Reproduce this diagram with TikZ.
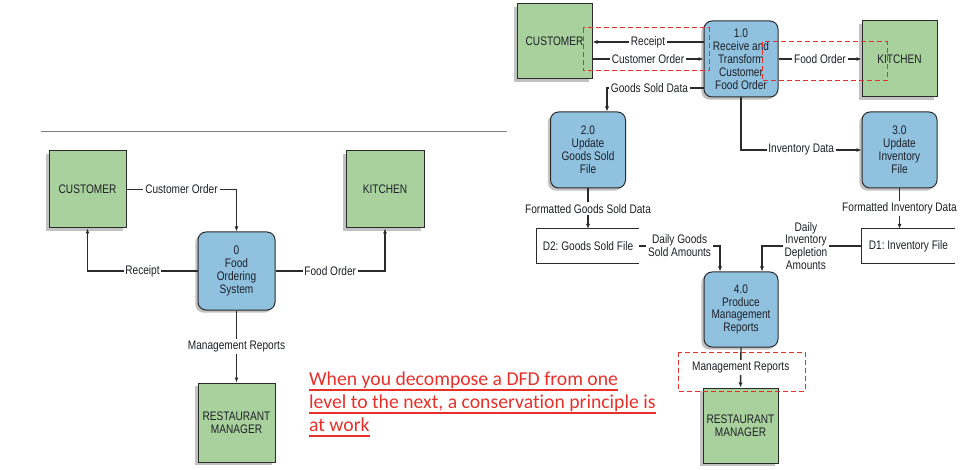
\documentclass[tikz,border=0pt]{standalone}
\usepackage{fontspec}
\usetikzlibrary{arrows.meta,shadows,calc}
\newfontfamily\dfdfont{Liberation Sans}[FakeStretch=0.815]
\newfontfamily\notefont{Carlito}[Ligatures=NoCommon]
\definecolor{entgreen}{HTML}{A9D19D}
\definecolor{procblue}{HTML}{90C2E0}
\definecolor{edgegray}{HTML}{2B2B2B}
\definecolor{txtgray}{HTML}{1E2028}
\definecolor{notered}{HTML}{E8302A}
\frenchspacing
\tikzset{
  base/.style={font=\dfdfont\fontsize{12.4}{12.9}\selectfont, text=txtgray, align=center, inner sep=0pt},
  entity/.style={base, rectangle, draw=edgegray, line width=1pt, fill=entgreen,
     drop shadow={shadow xshift=-2.6pt, shadow yshift=-2.6pt, fill=black!24, opacity=1}},
  proc/.style={base, rectangle, rounded corners=8pt, draw=edgegray, line width=1pt, fill=procblue,
     drop shadow={shadow xshift=-2.6pt, shadow yshift=-2.6pt, fill=black!24, opacity=1}},
  store/.style={base},
  storeline/.style={draw=edgegray, line width=0.8pt},
  flow/.style={draw=edgegray, line width=1.4pt, -{Latex[length=5pt,width=4.2pt]}},
  flowlbl/.style={base, fill=white, inner sep=1.8pt},
  redbox/.style={draw=notered, line width=1pt, dash pattern=on 5pt off 3pt},
  notetxt/.style={font=\notefont\fontsize{19.7}{24}\selectfont, text=notered, inner sep=0pt, anchor=base west},
  noteline/.style={draw=notered, line width=1.5pt}
}
\begin{document}
\begin{tikzpicture}[x=1pt,y=-1pt]
\useasboundingbox (0,0) rectangle (974,470);

% ---------- separator line ----------
\coordinate (sepL) at (41,132);
\coordinate (sepR) at (507,132);
\draw[black!50, line width=1pt] (sepL) -- (sepR);

% ---------- left (context) diagram ----------
\node[entity, minimum width=77pt, minimum height=77pt] (cust1) at (87.5,189.5) {CUSTOMER};
\node[entity, minimum width=78pt, minimum height=77pt] (kit1) at (385,189.5) {KITCHEN};
\node[proc, minimum width=77pt, minimum height=78pt] (p0) at (236.5,271) {0\\Food\\Ordering\\System};
\node[entity, minimum width=77pt, minimum height=79pt] (mgr1) at (236.5,422.5) {RESTAURANT\\MANAGER};

\draw[flow] (cust1.east) -| node[flowlbl, pos=0.25] {Customer Order} (p0.north);
\draw[flow] (p0.west) -| node[flowlbl, pos=0.25] {Receipt} (cust1.south);
\draw[flow] (p0.east) -| node[flowlbl, pos=0.25] {Food Order} (kit1.south);
\draw[flow] (p0.south) -- node[flowlbl] {Management Reports} (mgr1.north);

% ---------- right (level 0) diagram ----------
\node[entity, minimum width=75pt, minimum height=75pt] (cust2) at (554.5,41.5) {CUSTOMER};
\node[proc, minimum width=74pt, minimum height=76pt] (p1) at (741,59) {1.0\\Receive and\\Transform\\Customer\\Food Order};
\node[entity, minimum width=75pt, minimum height=76pt] (kit2) at (899.5,59) {KITCHEN};
\node[proc, minimum width=75pt, minimum height=76pt] (p2) at (588,150) {2.0\\Update\\Goods Sold\\File};
\node[proc, minimum width=75pt, minimum height=76pt] (p3) at (899.5,150) {3.0\\Update\\Inventory\\File};
\node[store, minimum width=102pt, minimum height=34pt] (d2) at (588,246) {D2: Goods Sold File};
\node[store, minimum width=93pt, minimum height=34pt] (d1) at (908.5,246) {D1: Inventory File};
\node[proc, minimum width=74pt, minimum height=75pt] (p4) at (741,309.5) {4.0\\Produce\\Management\\Reports};
\node[entity, minimum width=75pt, minimum height=75pt] (mgr2) at (740.5,425.5) {RESTAURANT\\MANAGER};

\draw[storeline] (d2.north east) -- (d2.north west) -- (d2.south west) -- (d2.south east);
\draw[storeline] (d1.north east) -- (d1.north west) -- (d1.south west) -- (d1.south east);

\draw[flow] ([yshift=17pt]p1.west) -- node[flowlbl] {Receipt} ([yshift=17pt]p1.west -| cust2.east);
\draw[flow] (p1.west -| cust2.east) -- node[flowlbl] {Customer Order} (p1.west);
\draw[flow] (p1.east) -- node[flowlbl] {Food Order} (kit2.west);
\draw[flow] ([yshift=-29pt]p1.west) -| node[flowlbl, pos=0.28] {Goods Sold Data} ([xshift=19pt]p2.north);
\draw[flow] (p1.south) |- node[flowlbl, pos=0.75] {Inventory Data} (p3.west);
\draw[flow] (p2.south) -- node[flowlbl] {Formatted Goods Sold Data} (d2.north);
\draw[flow] (p3.south) -- node[flowlbl] {Formatted Inventory Data} (p3.south |- d1.north);
\draw[flow] (d2.east) -| node[flowlbl, pos=0.25] {Daily Goods\\Sold Amounts} ([xshift=-21pt]p4.north);
\draw[flow] (d1.west) -| node[flowlbl, pos=0.28] {Daily\\Inventory\\Depletion\\Amounts} ([xshift=21pt]p4.north);
\draw[flow] (p4.south) -- node[flowlbl] {Management Reports} (mgr2.north);

% ---------- red dashed highlight boxes ----------
\draw[redbox] (583,28) rectangle (709,71);
\draw[redbox] (762,42) rectangle (887,81);
\draw[redbox] (678,352) rectangle (805,391);

% ---------- red note ----------
\node[notetxt] (r1) at (309,385) {When you decompose a DFD from one};
\node[notetxt] (r2) at (309,408) {level to the next, a conservation principle is};
\node[notetxt] (r3) at (309,431) {at work};
\draw[noteline] ($(r1.base west)+(0,5)$) -- ($(r1.base east)+(0,5)$);
\draw[noteline] ($(r2.base west)+(0,5)$) -- ($(r2.base east)+(0,5)$);
\draw[noteline] ($(r3.base west)+(0,5)$) -- ($(r3.base east)+(0,5)$);
\end{tikzpicture}
\end{document}
